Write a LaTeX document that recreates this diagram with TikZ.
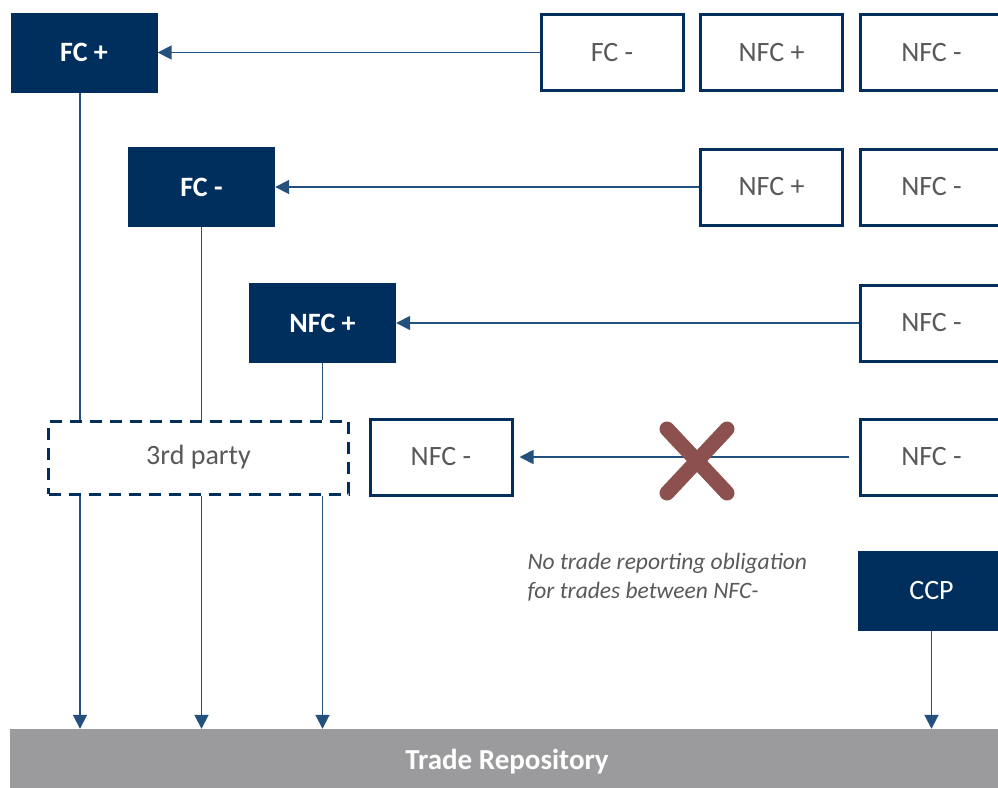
\documentclass[tikz,border=0pt]{standalone}
\usepackage{fontspec}
\setmainfont{Carlito}
\usetikzlibrary{arrows.meta, positioning}
\definecolor{navy}{HTML}{002E5D}
\definecolor{linkblue}{HTML}{24507D}
\definecolor{textgrey}{HTML}{595959}
\definecolor{crossred}{HTML}{8C504E}
\definecolor{repogrey}{HTML}{9B9B9D}
\tikzstyle{party} = [draw=navy, line width=3pt, fill=white, text=textgrey, minimum width=142pt, minimum height=76pt,
                     inner sep=0, font=\fontsize{28}{32}\selectfont]
\tikzstyle{reporter} = [fill=navy, text=white, minimum width=147pt, minimum height=80pt, inner sep=0,
                        font=\fontsize{28}{32}\selectfont\bfseries]
\tikzstyle{trade} = [linkblue, line width=1.8pt, -{Triangle[length=14pt, width=14pt]}]
\tikzstyle{link} = [linkblue, line width=1.8pt]

\begin{document}
\begin{tikzpicture}[x=1pt, y=-1pt]
				\useasboundingbox (0, 0) rectangle (998, 787);

				\node (FCPlus) [reporter] at (84, 52.5) {FC +};
				\node (FCMinusA) [party] at (612, 52.5) {FC -};
				\node (NFCPlusA) [party] at (771.5, 52.5) {NFC +};
				\node (NFCMinusA) [party] at (931.5, 52.5) {NFC -};
				\draw[trade] (FCMinusA) -- (FCPlus);

				\node (FCMinus) [reporter] at (201.5, 187) {FC -};
				\node (NFCPlusB) [party] at (771.5, 187) {NFC +};
				\node (NFCMinusB) [party] at (931.5, 187) {NFC -};
				\draw[trade] (NFCPlusB) -- (FCMinus);

				\node (NFCPlus) [reporter] at (322.5, 323) {NFC +};
				\node (NFCMinusC) [party] at (931.5, 323) {NFC -};
				\draw[trade] (NFCMinusC) -- (NFCPlus);

				\node (ThirdParty) [party, dash pattern=on 12pt off 8pt, minimum width=300pt, minimum height=73pt]
					at (198.5, 457.5) {3rd party};
				\node (NFCMinusD) [party] at (441, 457) {NFC -};
				\node (NFCMinusE) [party] at (931.5, 457) {NFC -};
				\draw[trade, shorten <=10pt, shorten >=6pt] (NFCMinusE) -- (NFCMinusD);

				\coordinate (Cross) at (697, 461);
				\draw[crossred, line width=15pt, line cap=round] (Cross) +(-30, -32) -- +(30, 32)
					(Cross) +(-30, 32) -- +(30, -32);

				\node (Note) [anchor=west, align=left, text=textgrey, font=\fontsize{23.5}{29}\selectfont\itshape]
					at (524, 577) {No trade reporting obligation\\for trades between NFC-};

				\node (CCP) [reporter, font=\fontsize{28}{32}\selectfont] at (931.5, 591) {CCP};

				\node (TR) [fill=repogrey, text=white, minimum width=994pt, minimum height=66pt, inner sep=0,
					font=\fontsize{29}{32}\selectfont\bfseries] at (507, 762) {Trade Repository};

				\coordinate (FCPlusLeg) at (80, 93);
				\draw[link] (FCPlusLeg) -- (FCPlusLeg |- ThirdParty.north);
				\draw[link] (FCMinus) -- (FCMinus |- ThirdParty.north);
				\draw[link] (NFCPlus) -- (NFCPlus |- ThirdParty.north);
				\draw[trade] (FCPlusLeg |- ThirdParty.south) -- (FCPlusLeg |- TR.north);
				\draw[trade] (FCMinus |- ThirdParty.south) -- (FCMinus |- TR.north);
				\draw[trade] (NFCPlus |- ThirdParty.south) -- (NFCPlus |- TR.north);
				\draw[trade] (CCP) -- (CCP |- TR.north);
			\end{tikzpicture}
\end{document}
